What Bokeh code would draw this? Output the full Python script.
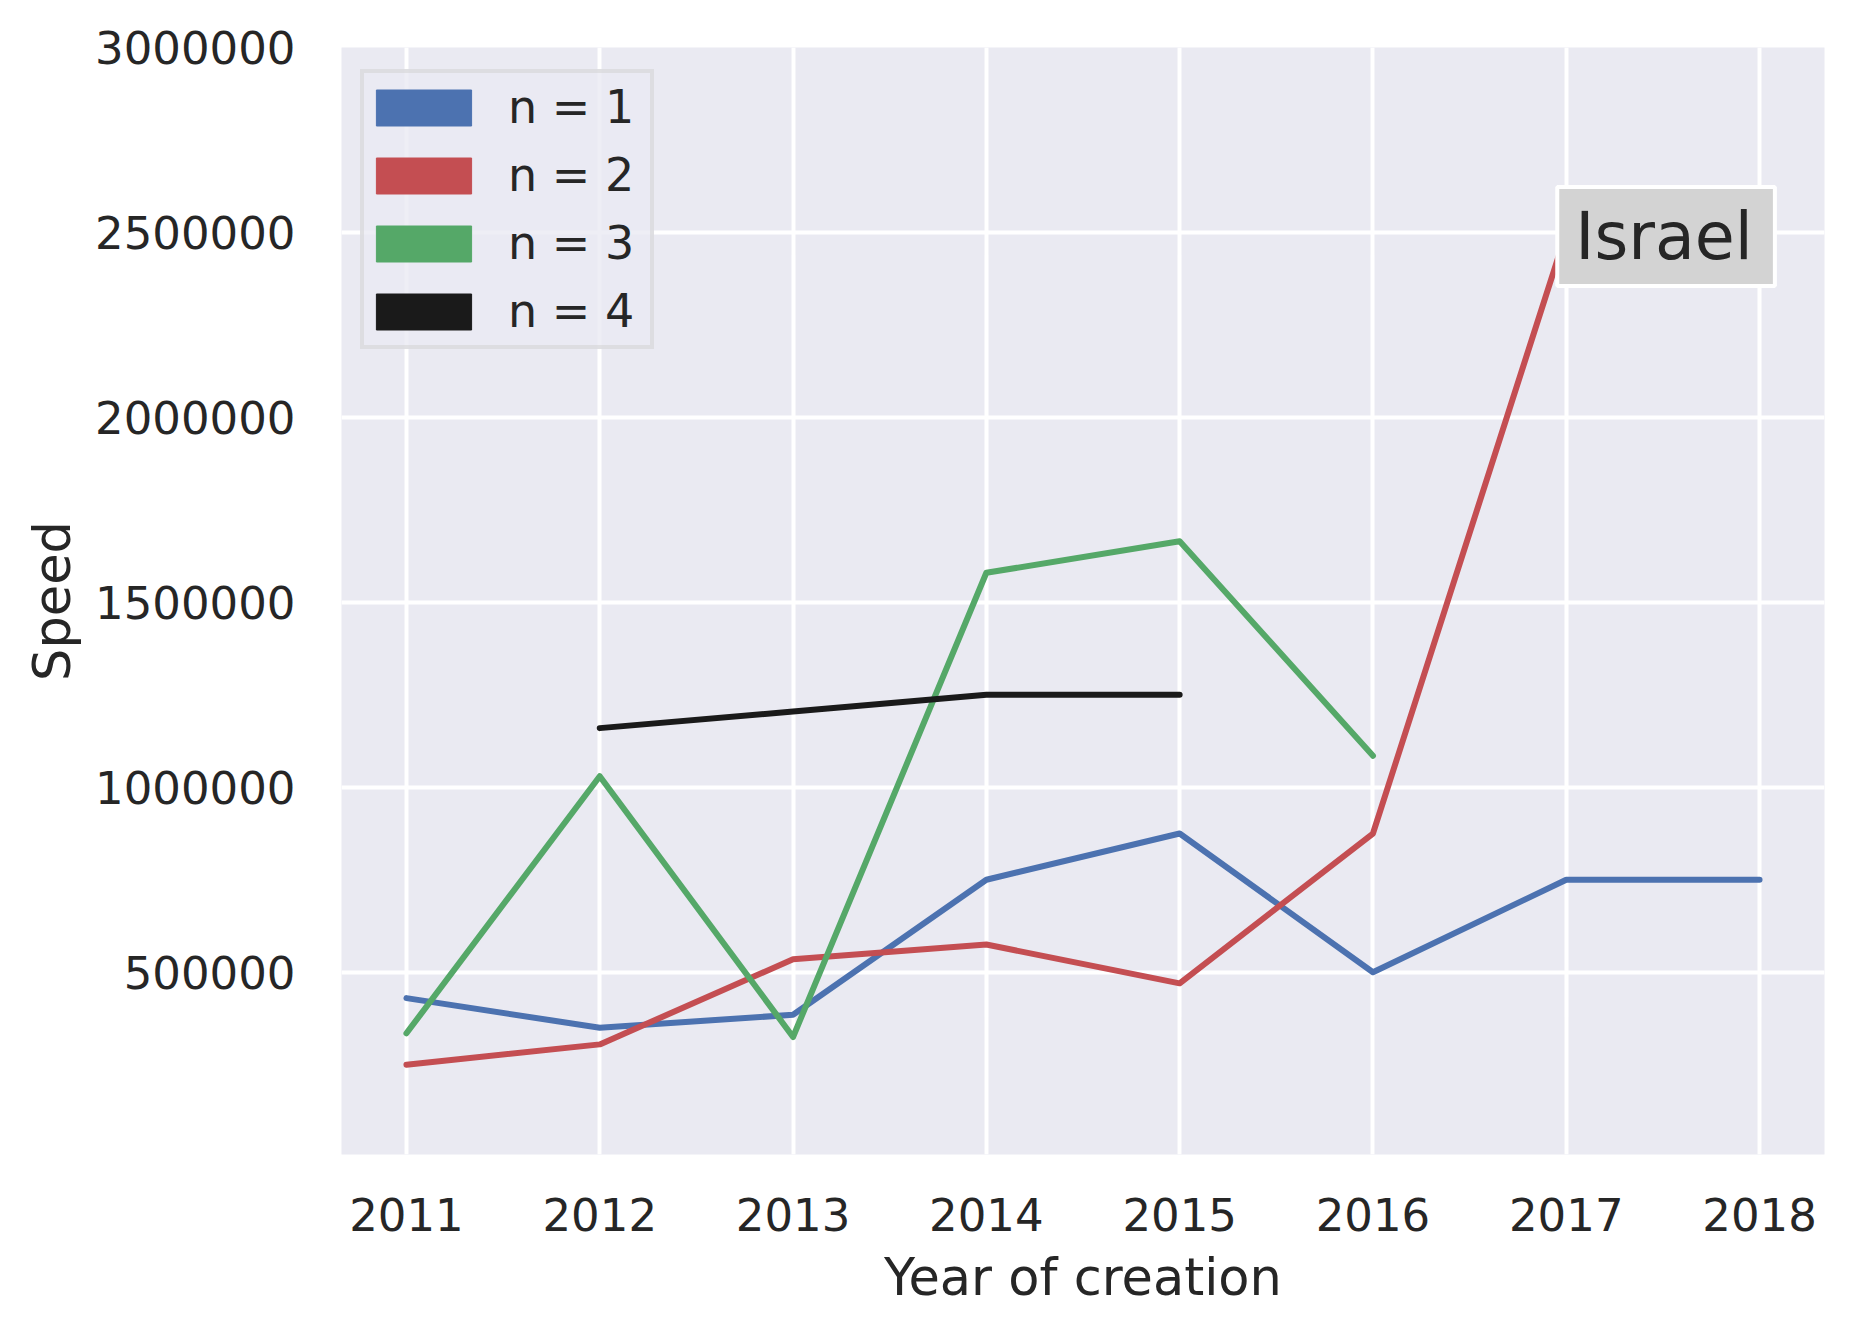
from bokeh.plotting import figure
from bokeh.models import Range1d, FixedTicker, Legend, LegendItem, Label, BasicTickFormatter
from bokeh.embed import file_html
from bokeh.resources import INLINE

# ---- data ----
n1_years = [2011, 2012, 2013, 2014, 2015, 2016, 2017, 2018]
n1_speed = [430000, 350000, 385000, 750000, 875000, 500000, 750000, 750000]

n2_years = [2011, 2012, 2013, 2014, 2015, 2016, 2017]
n2_speed = [250000, 305000, 535000, 575000, 470000, 875000, 2500000]

n3_years = [2011, 2012, 2013, 2014, 2015, 2016]
n3_speed = [335000, 1030000, 325000, 1580000, 1665000, 1085000]

n4_years = [2012, 2013, 2014, 2015]
n4_speed = [1160000, 1205000, 1250000, 1250000]

series_labels = ["n = 1", "n = 2", "n = 3", "n = 4"]
series_colors = ["#4C72B0", "#C44E52", "#55A868", "#1A1A1A"]

x_ticks = [2011, 2012, 2013, 2014, 2015, 2016, 2017, 2018]
y_ticks = [500000, 1000000, 1500000, 2000000, 2500000, 3000000]
y_tick_labels = ["500000", "1000000", "1500000", "2000000", "2500000", "3000000"]

annot_text = "Israel"
annot_x = 2017
annot_y = 2500000

FONT = "DejaVu Sans"
TXT = "#262626"
NAN = float("nan")

p = figure(width=1846, height=1319, output_backend="svg", toolbar_location=None,
           x_range=Range1d(2010.664, 2018.336), y_range=Range1d(7300, 3000000),
           min_border_left=341, min_border_right=22, min_border_top=47,
           min_border_bottom=165)

p.background_fill_color = "#EAEAF2"
p.border_fill_color = "white"
p.outline_line_color = None

for g in (p.xgrid, p.ygrid):
    g.grid_line_color = "white"
    g.grid_line_width = 4

p.xaxis.ticker = FixedTicker(ticks=x_ticks)
p.yaxis.ticker = FixedTicker(ticks=y_ticks)
p.yaxis.formatter = BasicTickFormatter(use_scientific=False)
p.yaxis.major_label_overrides = {t: l for t, l in zip(y_ticks, y_tick_labels)}

for ax in (p.xaxis, p.yaxis):
    ax.axis_line_color = None
    ax.major_tick_line_color = None
    ax.minor_tick_line_color = None
    ax.major_label_text_font = FONT
    ax.major_label_text_font_size = "45px"
    ax.major_label_text_color = TXT
    ax.axis_label_text_font = FONT
    ax.axis_label_text_font_size = "51px"
    ax.axis_label_text_font_style = "normal"
    ax.axis_label_text_color = TXT

p.xaxis.axis_label = "Year of creation"
p.yaxis.axis_label = "Speed"
p.xaxis.major_label_standoff = 37
p.xaxis.axis_label_standoff = 14
p.yaxis.major_label_standoff = 40
p.yaxis.axis_label_standoff = 10

data = [(n1_years, n1_speed), (n2_years, n2_speed), (n3_years, n3_speed), (n4_years, n4_speed)]
for (xs, ys), c in zip(data, series_colors):
    p.line(xs, ys, line_color=c, line_width=6, line_join="round", line_cap="round")

# legend proxies: filled swatches (no drawable data)
items = []
for lab, c in zip(series_labels, series_colors):
    q = p.quad(left=[NAN], right=[NAN], top=[NAN], bottom=[NAN],
               fill_color=c, line_color=c, line_width=1)
    items.append(LegendItem(label=lab, renderers=[q]))

legend = Legend(items=items, location=(19, 805),
                glyph_width=119, glyph_height=45, label_standoff=25, spacing=0,
                padding=0, label_height=68, label_width=142,
                border_line_color="#D0D0D0", border_line_width=4,
                background_fill_color="#EAEAF2", background_fill_alpha=0.8,
                label_text_font=FONT, label_text_font_size="46px", label_text_color=TXT)
p.add_layout(legend)

lab = Label(x=annot_x, y=annot_y, text=annot_text, text_align="left", text_baseline="middle",
            x_offset=-9, y_offset=-4,
            text_font=FONT, text_font_size="65px", text_color=TXT,
            background_fill_color="#D3D3D3", background_fill_alpha=1.0,
            border_line_color="white", border_line_width=4, padding=(18, 22, 12, 12))
p.add_layout(lab)

open("out.html", "w").write(file_html(p, INLINE))
